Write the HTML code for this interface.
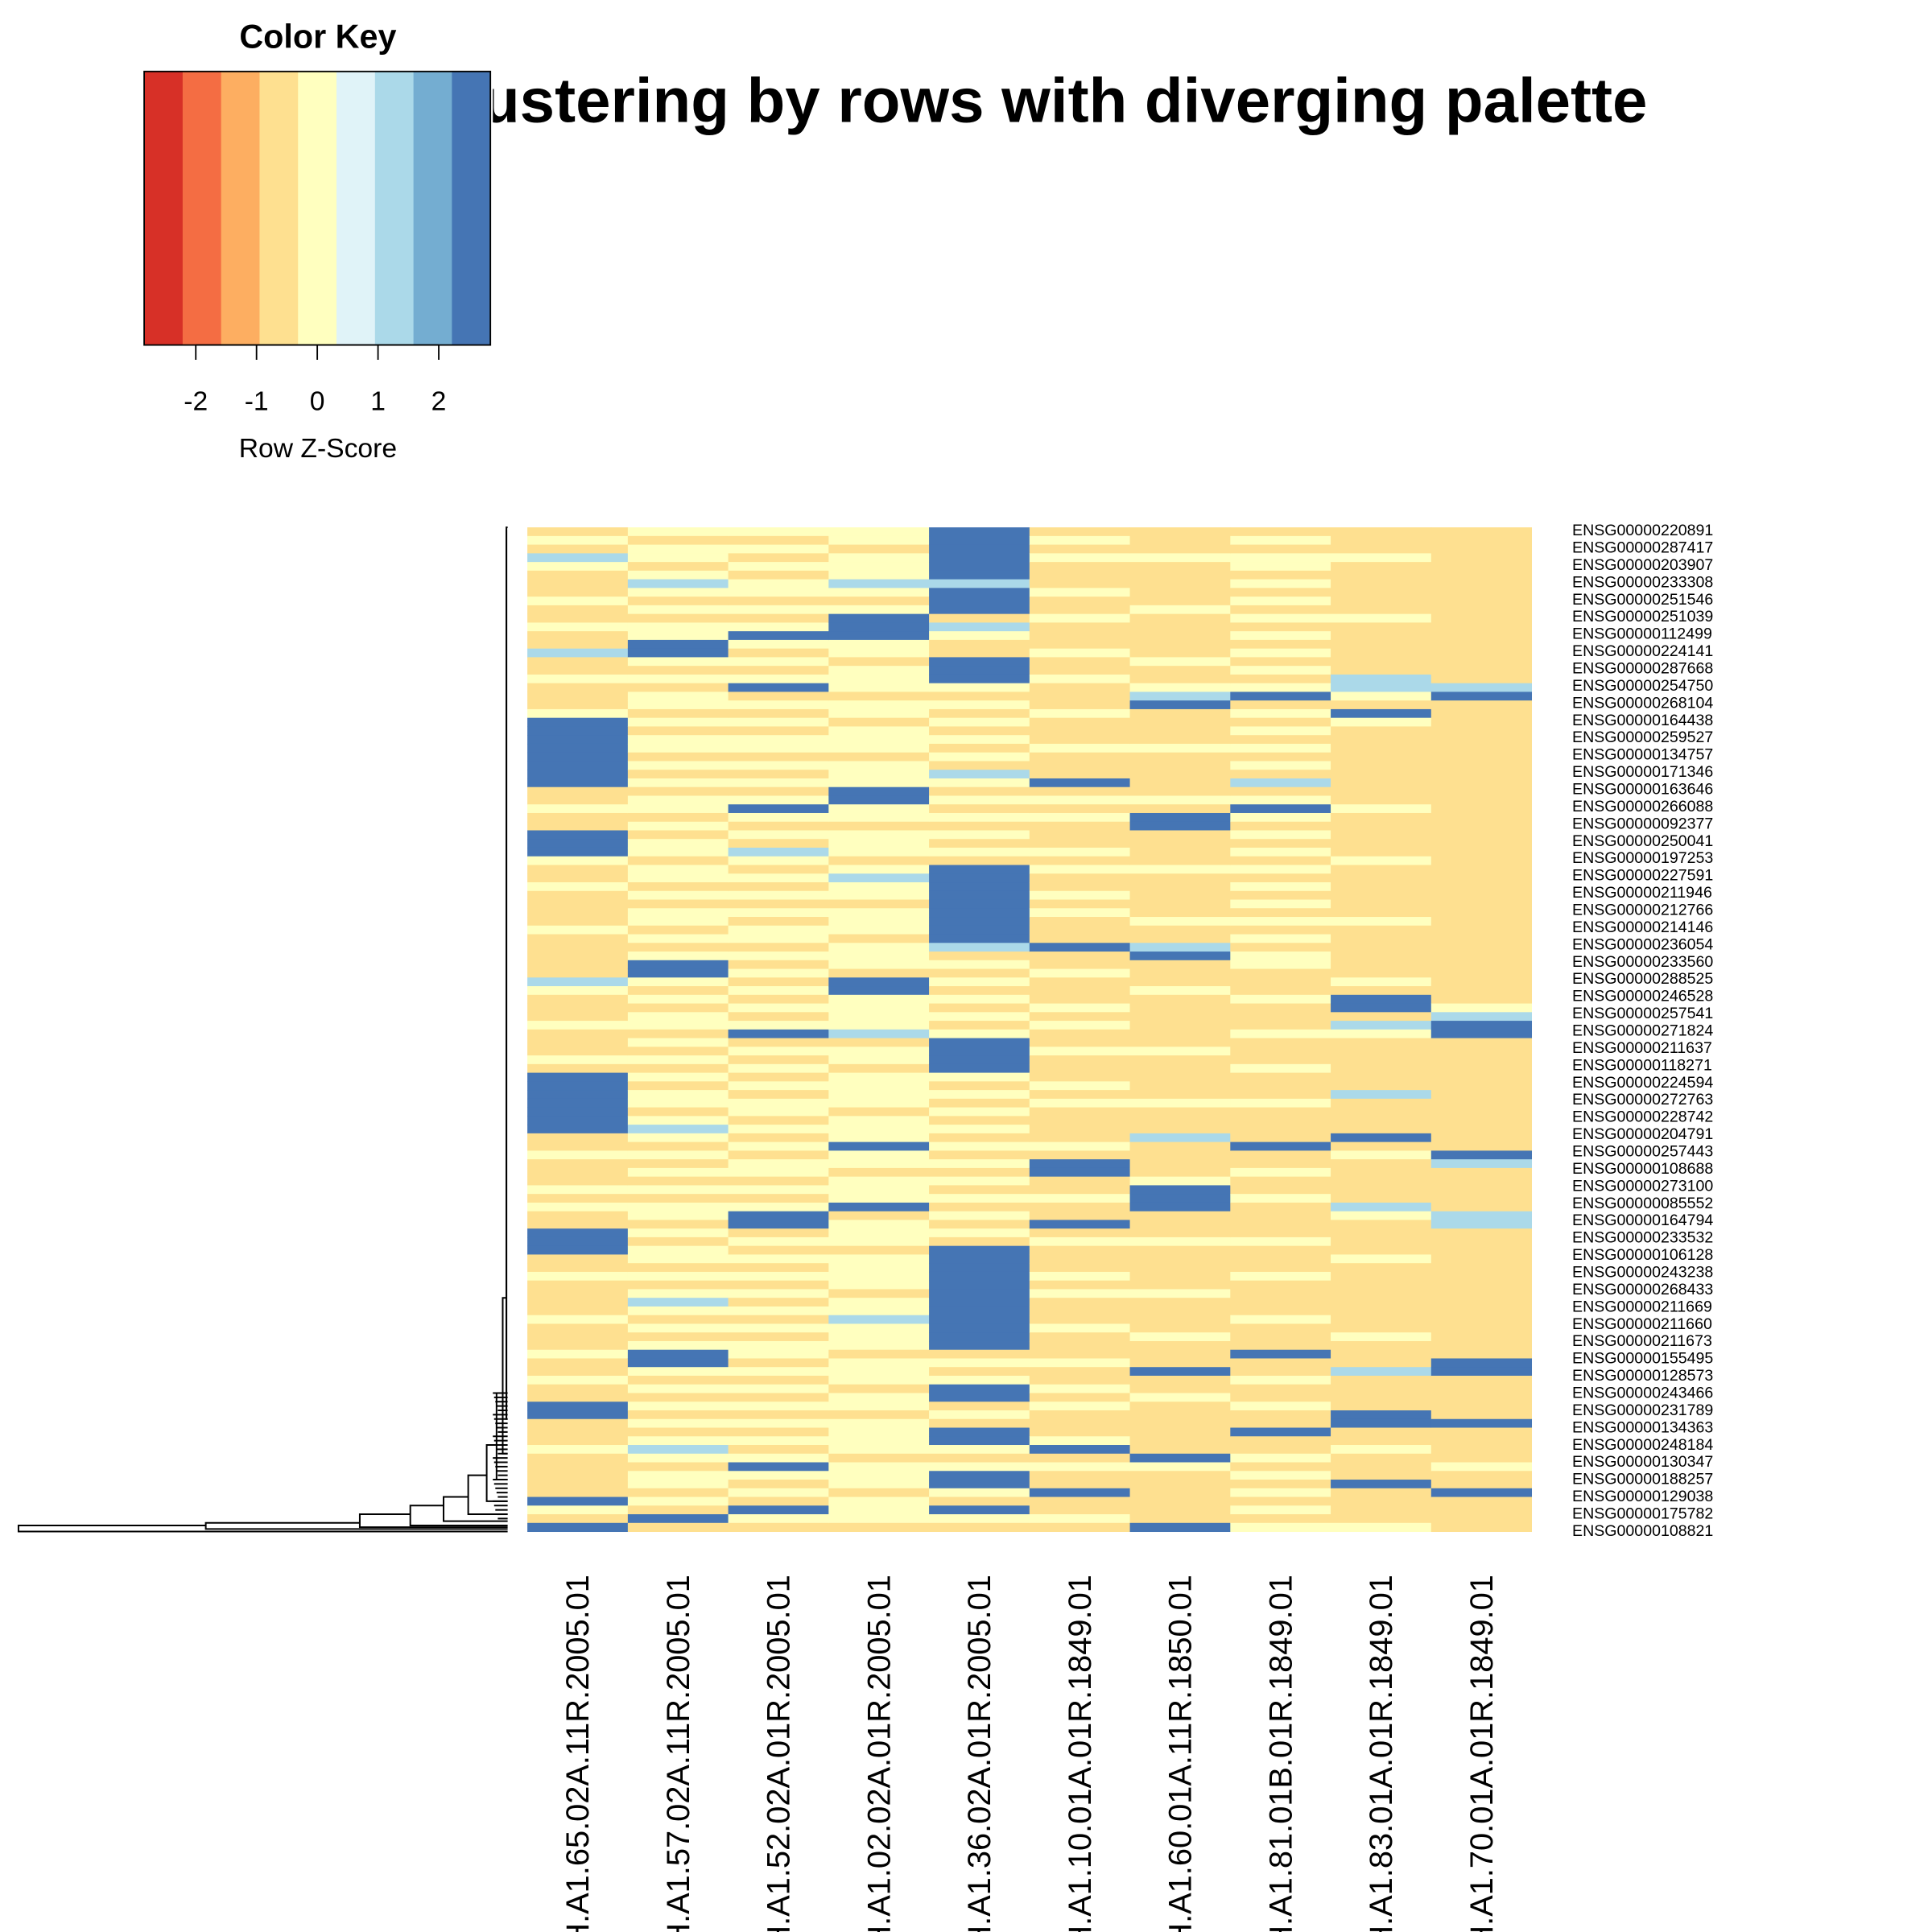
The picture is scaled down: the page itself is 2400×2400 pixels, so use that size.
<!DOCTYPE html>
<html><head><meta charset="utf-8">
<style>html,body{margin:0;padding:0;background:#fff;width:2400px;height:2400px;overflow:hidden}svg{display:block;overflow:hidden}</style>
</head><body>
<svg id="chart" xmlns="http://www.w3.org/2000/svg" width="2400" height="2400" viewBox="0 0 1568 1568" font-family="'Liberation Sans', sans-serif">
<text x="1337" y="99" text-anchor="end" font-size="51" font-weight="bold">Hierarchical clustering by rows with diverging palette</text>
<rect x="0" y="0" width="400" height="400" fill="#fff"/>
<g id="key"></g>
<g id="dendro" fill="none" stroke="#000" stroke-width="1.3"></g>
<g id="heat"></g>
<g id="rowlabels"></g>
<g id="collabels"></g>
</svg>
<script>
const keyColors = ["#D73027","#F46D43","#FDAE61","#FEE090","#FFFFBF","#E0F3F8","#ABD9E9","#74ADD1","#4575B4"];
const keyTicks = [-2,-1,0,1,2];
const cellColors = {o:"#FEE090", y:"#FFFFBF", l:"#ABD9E9", b:"#4575B4"};
const columns = ["TCGA.BH.A1.65.02A.11R.2005.01","TCGA.BH.A1.57.02A.11R.2005.01","TCGA.BH.A1.52.02A.01R.2005.01","TCGA.BH.A1.02.02A.01R.2005.01","TCGA.BH.A1.36.02A.01R.2005.01","TCGA.BH.A1.10.01A.01R.1849.01","TCGA.BH.A1.60.01A.11R.1850.01","TCGA.BH.A1.81.01B.01R.1849.01","TCGA.BH.A1.83.01A.01R.1849.01","TCGA.BH.A1.70.01A.01R.1849.01"];
const col1 = "oyolyoooyo"+"oyoolooyoo"+"oybbbbbbbb"+"ooyoobbbyo"+"oyooooyooo"+"oolyoooyoo"+"oyobbbbbbb"+"ooyoooyoyo"+"obbbooyooo"+"oyoooyooyo"+"obboooyooo"+"oobyob";
const col2 = "yoyyoylyoy"+"oyybbyoyoy"+"yoyoyyoyoy"+"oyyoyoyyoy"+"yoyoyyoyoy"+"bbyoyoyyoy"+"oyoyoyyoyl"+"yoyoyoyoyy"+"oyoyyoyoyl"+"yoyoybbyoy"+"oyoyoylyoy"+"yoyobo";
const col3 = "yoyoyoyyoy"+"oybyoyoybo"+"yoyoyyoyoy"+"oybyoyolyo"+"yoyoyoyyoy"+"oyoyoyoybo"+"yoyoyoyyoy"+"oyoyyoyoyb"+"boyoyoyoyo"+"yoyoyyoyoy"+"oyoyoyoyby"+"oyobyo";
const col4 = "yyoyyylyoy"+"bbbyyoyyyo"+"yyoyyyoyyy"+"bbyyoyyyoy"+"lyyoyyyoyy"+"yobbyyyylo"+"yyoyyyyoyy"+"ybyyoyyybo"+"yyyoyyyyoy"+"ylyyyoyyyo"+"yyoyyyyoyy"+"yoyyyo";
const col5 = "bbbbbblbbb"+"olyoobbbyo"+"yoyoyoyoly"+"oyoyoyoyob"+"bbbbbbbblo"+"yoyoyoyoyb"+"bbbyoyoyoy"+"oyoyoyoyoy"+"oyobbbbbbb"+"bbbbboyoyb"+"boyobbyoyb"+"byobyo";
const col6 = "oyoyoooyoo"+"yoooyooyoo"+"oyoooyooob"+"oyoyoooyoy"+"ooyoyooobo"+"oyoooyoyoo"+"yoooyoyooo"+"oyobbooyoo"+"boyoooyoyo"+"ooyoooyooy"+"oyoooyboyo"+"obooyo";
const col7 = "oooyoooooy"+"oooooyooyl"+"booooyoooo"+"oyobbooooy"+"oooooyoolb"+"oooyoooooo"+"yoooooyooo"+"looooybbbo"+"ooyoooooyo"+"oooyoooboo"+"yoooooobyo"+"ooooob";
const col8 = "oyoyyoyoyo"+"yoyoyoyoyb"+"oyoyoyoyol"+"oybyoyoyoy"+"oyoyoyoyoy"+"yoooyoooyo"+"ooyoooyooo"+"obooyooyoo"+"ooyoooyooo"+"oyooobooyo"+"oyoobooyoy"+"oyoyoy";
const col9 = "oooyoooooo"+"yoooooolly"+"obyooooooo"+"ooyoooooyo"+"oooooyoooo"+"ooyobbolyo"+"oooooloooo"+"boyoooooly"+"ooooyooooo"+"oooyoooloo"+"oobbooyooo"+"booooy";
const col10 = "oooooooooo"+"oooooooolb"+"oooooooooo"+"oooooooooo"+"oooooooooo"+"oooooylbbo"+"oooooooooo"+"oobloooool"+"looooooooo"+"oooooobboo"+"ooobooooyo"+"oboooo";
const matrix = [col1,col2,col3,col4,col5,col6,col7,col8,col9,col10];
const rowLabels = ["ENSG00000220891","ENSG00000287417","ENSG00000203907","ENSG00000233308","ENSG00000251546","ENSG00000251039","ENSG00000112499","ENSG00000224141","ENSG00000287668","ENSG00000254750","ENSG00000268104","ENSG00000164438","ENSG00000259527","ENSG00000134757","ENSG00000171346","ENSG00000163646","ENSG00000266088","ENSG00000092377","ENSG00000250041","ENSG00000197253","ENSG00000227591","ENSG00000211946","ENSG00000212766","ENSG00000214146","ENSG00000236054","ENSG00000233560","ENSG00000288525","ENSG00000246528","ENSG00000257541","ENSG00000271824","ENSG00000211637","ENSG00000118271","ENSG00000224594","ENSG00000272763","ENSG00000228742","ENSG00000204791","ENSG00000257443","ENSG00000108688","ENSG00000273100","ENSG00000085552","ENSG00000164794","ENSG00000233532","ENSG00000106128","ENSG00000243238","ENSG00000268433","ENSG00000211669","ENSG00000211660","ENSG00000211673","ENSG00000155495","ENSG00000128573","ENSG00000243466","ENSG00000231789","ENSG00000134363","ENSG00000248184","ENSG00000130347","ENSG00000188257","ENSG00000129038","ENSG00000175782","ENSG00000108821"];
const mergeX = [15,167,292,333,360,380,395,403,408,411];
const mergeTop = [115.3,115,114,113,112,109.5,106,100,89,0];
const mergeBot = [116,115.7,115.5,115.3,114.8,114,112.5,110,107,103];

const NS="http://www.w3.org/2000/svg";
function mk(tag, attrs, parent){const e=document.createElementNS(NS,tag);for(const k in attrs)e.setAttribute(k,attrs[k]);parent.appendChild(e);return e;}

const key=document.getElementById('key');
const kx0=117,kx1=398,ky0=58,ky1=280;
const kw=(kx1-kx0)/keyColors.length;
const kScale=v=>kx0+(v+2.85)/5.7*(kx1-kx0);
let t=mk('text',{x:258,y:39,'text-anchor':'middle','font-size':27,'font-weight':'bold'},key);t.textContent='Color Key';


keyColors.forEach((c,i)=>{const r=mk('rect',{x:kx0+i*kw,y:ky0,width:kw+0.5,height:ky1-ky0,fill:c},key);

});
mk('rect',{x:kx0,y:ky0,width:kx1-kx0,height:ky1-ky0,fill:'none',stroke:'#000','stroke-width':1.2},key);
keyTicks.forEach(v=>{const x=kScale(v);mk('line',{x1:x,x2:x,y1:ky1,y2:ky1+12,stroke:'#000','stroke-width':1.2},key);
const tt=mk('text',{x:x,y:333,'text-anchor':'middle','font-size':22},key);tt.textContent=String(v);

});
mk('line',{x1:kScale(-2),x2:kScale(2),y1:ky1,y2:ky1,stroke:'#000','stroke-width':1.2},key);
t=mk('text',{x:258,y:371,'text-anchor':'middle','font-size':22},key);t.textContent='Row Z-Score';



const hx0=428,hx1=1243,hy0=428,hy1=1243;
const nCols=matrix.length,nRows=matrix[0].length;
const cw=(hx1-hx0)/nCols,rh=(hy1-hy0)/nRows;
const xPos=j=>hx0+j*cw, yPos=i=>hy0+i*rh;
const heat=document.getElementById('heat');
matrix.forEach((col,j)=>{for(let i=0;i<col.length;i++){const r=mk('rect',{x:xPos(j),y:yPos(i),width:cw+0.3,height:rh+0.3,fill:cellColors[col[i]]},heat);

}});

const rl=document.getElementById('rowlabels');
const lsp=(1242-430)/(rowLabels.length-1);
rowLabels.forEach((s,i)=>{const e=mk('text',{x:1276,y:430+i*lsp+4.5,'font-size':12.8},rl);e.textContent=s;

});

const cl=document.getElementById('collabels');
columns.forEach((s,j)=>{const cx=xPos(j)+cw/2+9,y=1278;const e=mk('text',{x:cx,y:y,'text-anchor':'end','font-size':26,transform:`rotate(-90 ${cx} ${y})`},cl);e.textContent=s;

});

const dg=document.getElementById('dendro');
const rY=r=>hy0+r*rh;
for(let k=0;k<mergeX.length;k++){
  const x=mergeX[k], nx=k+1<mergeX.length?mergeX[k+1]:412;
  const yt=rY(mergeTop[k]), yb=rY(mergeBot[k]);
  mk('path',{d:`M${nx} ${yt} H${x} V${yb} H412`},dg);
}
mk('line',{x1:411,x2:411,y1:430,y2:1150},dg);
for(let k=0;k<30;k++){const yy=rY(100+k*0.5);mk('line',{x1:400+(k%5),x2:412,y1:yy,y2:yy},dg);}
</script>
</body></html>
